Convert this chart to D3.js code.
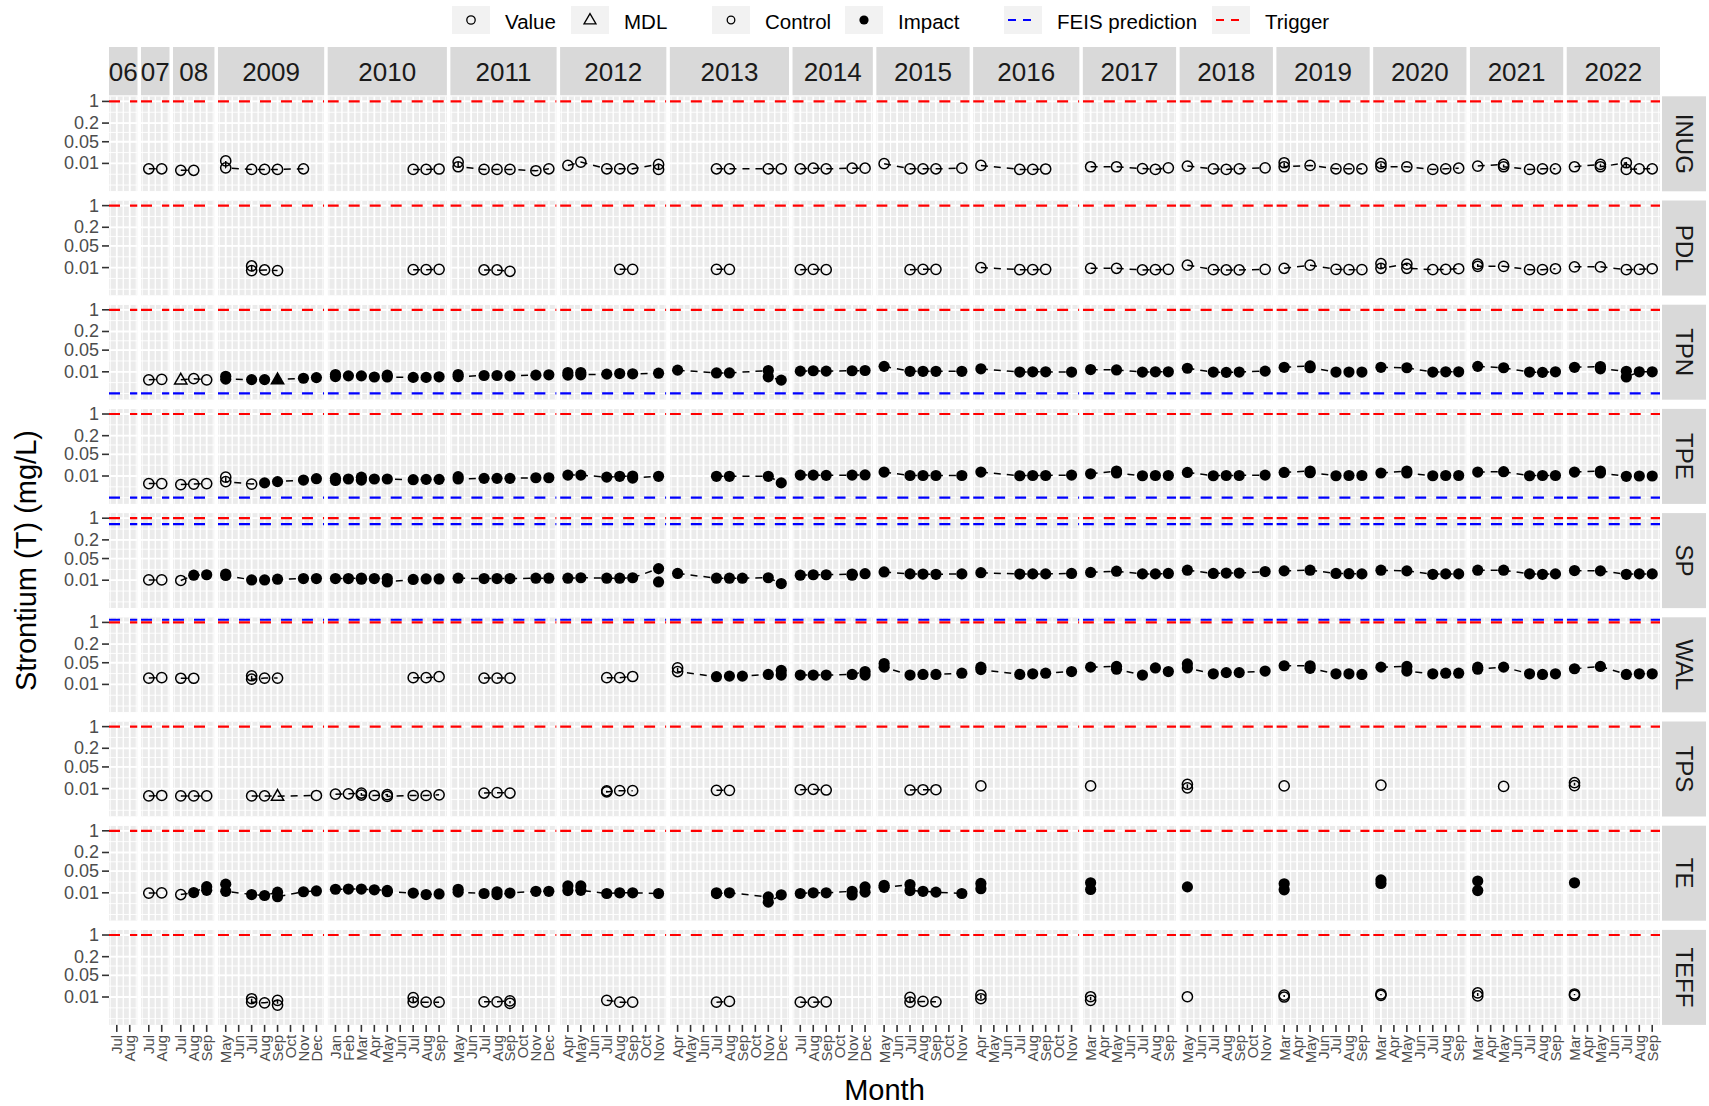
<!DOCTYPE html>
<html><head><meta charset="utf-8">
<script src="https://cdn.jsdelivr.net/npm/d3@7"></script>
<style>
body{margin:0;background:#fff}
text{font-family:"Liberation Sans",Arial,Helvetica,sans-serif}
</style>
</head><body>
<svg id="c" width="1709" height="1106" xmlns="http://www.w3.org/2000/svg"></svg>
<script>
// ---------------- DATA ----------------
const sites = ["INUG","PDL","TPN","TPE","SP","WAL","TPS","TE","TEFF"];
const years = [2006,2007,2008,2009,2010,2011,2012,2013,2014,2015,2016,2017,2018,2019,2020,2021,2022];
const yearLabels = ["06","07","08","2009","2010","2011","2012","2013","2014","2015","2016","2017","2018","2019","2020","2021","2022"];
const yearMonths = [
  ["Jul","Aug"],
  ["Jul","Aug"],
  ["Jul","Aug","Sep"],
  ["May","Jun","Jul","Aug","Sep","Oct","Nov","Dec"],
  ["Jan","Feb","Mar","Apr","May","Jun","Jul","Aug","Sep"],
  ["May","Jun","Jul","Aug","Sep","Oct","Nov","Dec"],
  ["Apr","May","Jun","Jul","Aug","Sep","Oct","Nov"],
  ["Apr","May","Jun","Jul","Aug","Sep","Oct","Nov","Dec"],
  ["Jul","Aug","Sep","Oct","Nov","Dec"],
  ["May","Jun","Jul","Aug","Sep","Oct","Nov"],
  ["Apr","May","Jun","Jul","Aug","Sep","Oct","Nov"],
  ["Mar","Apr","May","Jun","Jul","Aug","Sep"],
  ["May","Jun","Jul","Aug","Sep","Oct","Nov"],
  ["Mar","Apr","May","Jun","Jul","Aug","Sep"],
  ["Mar","Apr","May","Jun","Jul","Aug","Sep"],
  ["Mar","Apr","May","Jun","Jul","Aug","Sep"],
  ["Mar","Apr","May","Jun","Jul","Aug","Sep"]
];
const triggerValues = [1,1,1,1,1,1,1,1,1];
const feisValues = [null,null,0.002,0.002,0.64,1.22,null,null,null];
const yTickValues = [1,0.2,0.05,0.01];
const yTickLabels = ["1","0.2","0.05","0.01"];
const legendShapes = ["Value","MDL"];
const legendGroups = ["Control","Impact"];
const legendLines = ["FEIS prediction","Trigger"];

// [year, month, value, type]  type: C=Control value, I=Impact value, CM/IM = at MDL
const INUG = [
 [2007,"Jul",0.0067,"C"],[2007,"Aug",0.0067,"C"],
 [2008,"Jul",0.006,"C"],[2008,"Aug",0.006,"C"],
 [2009,"May",0.012,"C"],[2009,"May",0.0072,"C"],[2009,"Jul",0.0064,"C"],[2009,"Aug",0.0064,"C"],[2009,"Sep",0.0064,"C"],[2009,"Nov",0.0067,"C"],
 [2010,"Jul",0.0064,"C"],[2010,"Aug",0.0064,"C"],[2010,"Sep",0.0066,"C"],
 [2011,"May",0.011,"C"],[2011,"May",0.0078,"C"],[2011,"Jul",0.0064,"C"],[2011,"Aug",0.0064,"C"],[2011,"Sep",0.0064,"C"],[2011,"Nov",0.0058,"C"],[2011,"Dec",0.0067,"C"],
 [2012,"Apr",0.0086,"C"],[2012,"May",0.011,"C"],[2012,"Jul",0.0067,"C"],[2012,"Aug",0.0067,"C"],[2012,"Sep",0.0067,"C"],[2012,"Nov",0.0093,"C"],[2012,"Nov",0.0064,"C"],
 [2013,"Jul",0.0067,"C"],[2013,"Aug",0.0067,"C"],[2013,"Nov",0.0067,"C"],[2013,"Dec",0.0067,"C"],
 [2014,"Jul",0.0067,"C"],[2014,"Aug",0.007,"C"],[2014,"Sep",0.0067,"C"],[2014,"Nov",0.007,"C"],[2014,"Dec",0.007,"C"],
 [2015,"May",0.0098,"C"],[2015,"Jul",0.0067,"C"],[2015,"Aug",0.0067,"C"],[2015,"Sep",0.0067,"C"],[2015,"Nov",0.007,"C"],
 [2016,"Apr",0.0086,"C"],[2016,"Jul",0.0064,"C"],[2016,"Aug",0.0064,"C"],[2016,"Sep",0.0066,"C"],
 [2017,"Mar",0.0078,"C"],[2017,"May",0.0078,"C"],[2017,"Jul",0.0068,"C"],[2017,"Aug",0.0064,"C"],[2017,"Sep",0.0072,"C"],
 [2018,"May",0.0082,"C"],[2018,"Jul",0.0067,"C"],[2018,"Aug",0.0064,"C"],[2018,"Sep",0.0067,"C"],[2018,"Nov",0.0072,"C"],
 [2019,"Mar",0.0105,"C"],[2019,"Mar",0.0078,"C"],[2019,"May",0.0086,"C"],[2019,"Jul",0.0067,"C"],[2019,"Aug",0.0067,"C"],[2019,"Sep",0.0067,"C"],
 [2020,"Mar",0.01,"C"],[2020,"Mar",0.0078,"C"],[2020,"May",0.0078,"C"],[2020,"Jul",0.0064,"C"],[2020,"Aug",0.0067,"C"],[2020,"Sep",0.007,"C"],
 [2021,"Mar",0.0082,"C"],[2021,"May",0.0093,"C"],[2021,"May",0.0078,"C"],[2021,"Jul",0.0064,"C"],[2021,"Aug",0.0067,"C"],[2021,"Sep",0.0067,"C"],
 [2022,"Mar",0.0078,"C"],[2022,"May",0.0093,"C"],[2022,"May",0.0078,"C"],[2022,"Jul",0.0105,"C"],[2022,"Jul",0.0064,"C"],[2022,"Aug",0.0067,"C"],[2022,"Sep",0.0067,"C"]
];
const PDL = [
 [2009,"Jul",0.0113,"C"],[2009,"Jul",0.008,"C"],[2009,"Aug",0.0084,"C"],[2009,"Sep",0.008,"C"],
 [2010,"Jul",0.0086,"C"],[2010,"Aug",0.0086,"C"],[2010,"Sep",0.0088,"C"],
 [2011,"Jul",0.0084,"C"],[2011,"Aug",0.0084,"C"],[2011,"Sep",0.0076,"C"],
 [2012,"Aug",0.0088,"C"],[2012,"Sep",0.0088,"C"],
 [2013,"Jul",0.0088,"C"],[2013,"Aug",0.0088,"C"],
 [2014,"Jul",0.0086,"C"],[2014,"Aug",0.0088,"C"],[2014,"Sep",0.0086,"C"],
 [2015,"Jul",0.0086,"C"],[2015,"Aug",0.0088,"C"],[2015,"Sep",0.0088,"C"],
 [2016,"Apr",0.01,"C"],[2016,"Jul",0.0086,"C"],[2016,"Aug",0.0086,"C"],[2016,"Sep",0.0088,"C"],
 [2017,"Mar",0.0095,"C"],[2017,"May",0.0095,"C"],[2017,"Jul",0.0084,"C"],[2017,"Aug",0.0086,"C"],[2017,"Sep",0.0088,"C"],
 [2018,"May",0.012,"C"],[2018,"Jul",0.0086,"C"],[2018,"Aug",0.0084,"C"],[2018,"Sep",0.0084,"C"],[2018,"Nov",0.0088,"C"],
 [2019,"Mar",0.0095,"C"],[2019,"May",0.012,"C"],[2019,"Jul",0.0088,"C"],[2019,"Aug",0.0086,"C"],[2019,"Sep",0.0086,"C"],
 [2020,"Mar",0.0135,"C"],[2020,"Mar",0.0095,"C"],[2020,"May",0.013,"C"],[2020,"May",0.0095,"C"],[2020,"Jul",0.0086,"C"],[2020,"Aug",0.0088,"C"],[2020,"Sep",0.0092,"C"],
 [2021,"Mar",0.013,"C"],[2021,"Mar",0.011,"C"],[2021,"May",0.011,"C"],[2021,"Jul",0.0086,"C"],[2021,"Aug",0.0086,"C"],[2021,"Sep",0.0092,"C"],
 [2022,"Mar",0.0106,"C"],[2022,"May",0.0106,"C"],[2022,"Jul",0.0086,"C"],[2022,"Aug",0.0088,"C"],[2022,"Sep",0.0092,"C"]
];
const TPN = [
 [2007,"Jul",0.0055,"C"],[2007,"Aug",0.0057,"C"],
 [2008,"Jul",0.0055,"CM"],[2008,"Aug",0.006,"C"],[2008,"Sep",0.0055,"C"],
 [2009,"May",0.0072,"I"],[2009,"May",0.0058,"I"],[2009,"Jul",0.0056,"I"],[2009,"Aug",0.0056,"I"],[2009,"Sep",0.0056,"IM"],[2009,"Nov",0.0062,"I"],[2009,"Dec",0.0065,"I"],
 [2010,"Jan",0.0082,"I"],[2010,"Jan",0.007,"I"],[2010,"Feb",0.0074,"I"],[2010,"Mar",0.0074,"I"],[2010,"Apr",0.0068,"I"],[2010,"May",0.0078,"I"],[2010,"May",0.0068,"I"],[2010,"Jul",0.0066,"I"],[2010,"Aug",0.0066,"I"],[2010,"Sep",0.0069,"I"],
 [2011,"May",0.0082,"I"],[2011,"May",0.007,"I"],[2011,"Jul",0.0076,"I"],[2011,"Aug",0.0076,"I"],[2011,"Sep",0.0074,"I"],[2011,"Nov",0.0078,"I"],[2011,"Dec",0.008,"I"],
 [2012,"Apr",0.0095,"I"],[2012,"Apr",0.0078,"I"],[2012,"May",0.0095,"I"],[2012,"May",0.008,"I"],[2012,"Jul",0.0084,"I"],[2012,"Aug",0.0088,"I"],[2012,"Sep",0.0086,"I"],[2012,"Nov",0.009,"I"],
 [2013,"Apr",0.0113,"I"],[2013,"Jul",0.0092,"I"],[2013,"Aug",0.0092,"I"],[2013,"Nov",0.011,"I"],[2013,"Nov",0.0069,"I"],[2013,"Dec",0.0054,"I"],
 [2014,"Jul",0.0105,"I"],[2014,"Aug",0.0108,"I"],[2014,"Sep",0.0105,"I"],[2014,"Nov",0.0108,"I"],[2014,"Dec",0.011,"I"],
 [2015,"May",0.015,"I"],[2015,"Jul",0.0104,"I"],[2015,"Aug",0.0104,"I"],[2015,"Sep",0.0104,"I"],[2015,"Nov",0.0104,"I"],
 [2016,"Apr",0.0125,"I"],[2016,"Jul",0.0098,"I"],[2016,"Aug",0.01,"I"],[2016,"Sep",0.01,"I"],[2016,"Nov",0.0098,"I"],
 [2017,"Mar",0.0118,"I"],[2017,"May",0.0115,"I"],[2017,"Jul",0.0098,"I"],[2017,"Aug",0.01,"I"],[2017,"Sep",0.01,"I"],
 [2018,"May",0.013,"I"],[2018,"Jul",0.0098,"I"],[2018,"Aug",0.0096,"I"],[2018,"Sep",0.0098,"I"],[2018,"Nov",0.0105,"I"],
 [2019,"Mar",0.014,"I"],[2019,"May",0.0155,"I"],[2019,"May",0.0135,"I"],[2019,"Jul",0.0098,"I"],[2019,"Aug",0.0098,"I"],[2019,"Sep",0.0098,"I"],
 [2020,"Mar",0.014,"I"],[2020,"May",0.0135,"I"],[2020,"Jul",0.0098,"I"],[2020,"Aug",0.01,"I"],[2020,"Sep",0.01,"I"],
 [2021,"Mar",0.015,"I"],[2021,"May",0.0135,"I"],[2021,"Jul",0.0098,"I"],[2021,"Aug",0.0096,"I"],[2021,"Sep",0.01,"I"],
 [2022,"Mar",0.014,"I"],[2022,"May",0.0148,"I"],[2022,"May",0.0125,"I"],[2022,"Jul",0.0104,"I"],[2022,"Jul",0.0068,"I"],[2022,"Aug",0.01,"I"],[2022,"Sep",0.01,"I"]
];
const TPE = [
 [2007,"Jul",0.0057,"C"],[2007,"Aug",0.0057,"C"],
 [2008,"Jul",0.0053,"C"],[2008,"Aug",0.0055,"C"],[2008,"Sep",0.0057,"C"],
 [2009,"May",0.0092,"C"],[2009,"May",0.0066,"C"],[2009,"Jul",0.0055,"C"],[2009,"Aug",0.006,"I"],[2009,"Sep",0.0066,"I"],[2009,"Nov",0.0074,"I"],[2009,"Dec",0.0082,"I"],
 [2010,"Jan",0.0085,"I"],[2010,"Jan",0.0072,"I"],[2010,"Feb",0.008,"I"],[2010,"Mar",0.0092,"I"],[2010,"Mar",0.0074,"I"],[2010,"Apr",0.008,"I"],[2010,"May",0.008,"I"],[2010,"Jul",0.0076,"I"],[2010,"Aug",0.0078,"I"],[2010,"Sep",0.0078,"I"],
 [2011,"May",0.0095,"I"],[2011,"May",0.008,"I"],[2011,"Jul",0.0084,"I"],[2011,"Aug",0.0084,"I"],[2011,"Sep",0.0084,"I"],[2011,"Nov",0.0088,"I"],[2011,"Dec",0.0088,"I"],
 [2012,"Apr",0.0107,"I"],[2012,"May",0.0107,"I"],[2012,"Jul",0.0092,"I"],[2012,"Aug",0.0098,"I"],[2012,"Sep",0.01,"I"],[2012,"Sep",0.0086,"I"],[2012,"Nov",0.0098,"I"],
 [2013,"Jul",0.0098,"I"],[2013,"Aug",0.0098,"I"],[2013,"Nov",0.0098,"I"],[2013,"Dec",0.006,"I"],
 [2014,"Jul",0.0107,"I"],[2014,"Aug",0.0107,"I"],[2014,"Sep",0.0105,"I"],[2014,"Nov",0.0107,"I"],[2014,"Dec",0.0108,"I"],
 [2015,"May",0.0134,"I"],[2015,"Jul",0.0104,"I"],[2015,"Aug",0.0104,"I"],[2015,"Sep",0.0104,"I"],[2015,"Nov",0.0104,"I"],
 [2016,"Apr",0.0134,"I"],[2016,"Jul",0.0102,"I"],[2016,"Aug",0.0104,"I"],[2016,"Sep",0.0104,"I"],[2016,"Nov",0.0107,"I"],
 [2017,"Mar",0.0118,"I"],[2017,"May",0.0145,"I"],[2017,"May",0.0125,"I"],[2017,"Jul",0.0102,"I"],[2017,"Aug",0.0104,"I"],[2017,"Sep",0.0104,"I"],
 [2018,"May",0.013,"I"],[2018,"Jul",0.0102,"I"],[2018,"Aug",0.0104,"I"],[2018,"Sep",0.0104,"I"],[2018,"Nov",0.0107,"I"],
 [2019,"Mar",0.013,"I"],[2019,"May",0.0145,"I"],[2019,"May",0.0128,"I"],[2019,"Jul",0.0102,"I"],[2019,"Aug",0.0104,"I"],[2019,"Sep",0.0104,"I"],
 [2020,"Mar",0.0125,"I"],[2020,"May",0.0145,"I"],[2020,"May",0.0125,"I"],[2020,"Jul",0.0102,"I"],[2020,"Aug",0.0104,"I"],[2020,"Sep",0.0104,"I"],
 [2021,"Mar",0.0134,"I"],[2021,"May",0.0138,"I"],[2021,"Jul",0.0102,"I"],[2021,"Aug",0.0104,"I"],[2021,"Sep",0.0104,"I"],
 [2022,"Mar",0.0134,"I"],[2022,"May",0.0145,"I"],[2022,"May",0.0125,"I"],[2022,"Jul",0.0098,"I"],[2022,"Aug",0.01,"I"],[2022,"Sep",0.01,"I"]
];
const SP = [
 [2007,"Jul",0.0102,"C"],[2007,"Aug",0.0102,"C"],
 [2008,"Jul",0.0098,"C"],[2008,"Aug",0.0145,"I"],[2008,"Sep",0.015,"I"],
 [2009,"May",0.0158,"I"],[2009,"May",0.0142,"I"],[2009,"Jul",0.0102,"I"],[2009,"Aug",0.0102,"I"],[2009,"Sep",0.0108,"I"],[2009,"Nov",0.0113,"I"],[2009,"Dec",0.0113,"I"],
 [2010,"Jan",0.0113,"I"],[2010,"Feb",0.0113,"I"],[2010,"Mar",0.0118,"I"],[2010,"Mar",0.0108,"I"],[2010,"Apr",0.0113,"I"],[2010,"May",0.0113,"I"],[2010,"May",0.0088,"I"],[2010,"Jul",0.0106,"I"],[2010,"Aug",0.011,"I"],[2010,"Sep",0.011,"I"],
 [2011,"May",0.0116,"I"],[2011,"Jul",0.0113,"I"],[2011,"Aug",0.0113,"I"],[2011,"Sep",0.0113,"I"],[2011,"Nov",0.0116,"I"],[2011,"Dec",0.0116,"I"],
 [2012,"Apr",0.0116,"I"],[2012,"May",0.012,"I"],[2012,"Jul",0.0116,"I"],[2012,"Aug",0.0116,"I"],[2012,"Sep",0.012,"I"],[2012,"Nov",0.0237,"I"],[2012,"Nov",0.0088,"I"],
 [2013,"Apr",0.0165,"I"],[2013,"Jul",0.0116,"I"],[2013,"Aug",0.0116,"I"],[2013,"Sep",0.0116,"I"],[2013,"Nov",0.012,"I"],[2013,"Dec",0.0078,"I"],
 [2014,"Jul",0.0145,"I"],[2014,"Aug",0.015,"I"],[2014,"Sep",0.015,"I"],[2014,"Nov",0.0158,"I"],[2014,"Nov",0.0145,"I"],[2014,"Dec",0.0162,"I"],
 [2015,"May",0.0185,"I"],[2015,"Jul",0.016,"I"],[2015,"Aug",0.0158,"I"],[2015,"Sep",0.0155,"I"],[2015,"Nov",0.016,"I"],
 [2016,"Apr",0.0175,"I"],[2016,"Jul",0.0158,"I"],[2016,"Aug",0.016,"I"],[2016,"Sep",0.016,"I"],[2016,"Nov",0.0165,"I"],
 [2017,"Mar",0.0178,"I"],[2017,"May",0.0195,"I"],[2017,"Jul",0.016,"I"],[2017,"Aug",0.016,"I"],[2017,"Sep",0.0165,"I"],
 [2018,"May",0.021,"I"],[2018,"Jul",0.0165,"I"],[2018,"Aug",0.017,"I"],[2018,"Sep",0.017,"I"],[2018,"Nov",0.019,"I"],
 [2019,"Mar",0.02,"I"],[2019,"May",0.021,"I"],[2019,"Jul",0.0165,"I"],[2019,"Aug",0.0162,"I"],[2019,"Sep",0.016,"I"],
 [2020,"Mar",0.021,"I"],[2020,"May",0.02,"I"],[2020,"Jul",0.0155,"I"],[2020,"Aug",0.016,"I"],[2020,"Sep",0.016,"I"],
 [2021,"Mar",0.021,"I"],[2021,"May",0.021,"I"],[2021,"Jul",0.016,"I"],[2021,"Aug",0.0155,"I"],[2021,"Sep",0.016,"I"],
 [2022,"Mar",0.0205,"I"],[2022,"May",0.02,"I"],[2022,"Jul",0.0155,"I"],[2022,"Aug",0.016,"I"],[2022,"Sep",0.016,"I"]
];
const WAL = [
 [2007,"Jul",0.016,"C"],[2007,"Aug",0.0165,"C"],
 [2008,"Jul",0.0158,"C"],[2008,"Aug",0.0158,"C"],
 [2009,"Jul",0.019,"C"],[2009,"Jul",0.0147,"C"],[2009,"Aug",0.016,"C"],[2009,"Sep",0.016,"C"],
 [2010,"Jul",0.0165,"C"],[2010,"Aug",0.0165,"C"],[2010,"Sep",0.0177,"C"],
 [2011,"Jul",0.016,"C"],[2011,"Aug",0.016,"C"],[2011,"Sep",0.016,"C"],
 [2012,"Jul",0.0165,"C"],[2012,"Aug",0.0165,"C"],[2012,"Sep",0.018,"C"],
 [2013,"Apr",0.034,"C"],[2013,"Apr",0.026,"C"],[2013,"Jul",0.0177,"I"],[2013,"Aug",0.0185,"I"],[2013,"Sep",0.0185,"I"],[2013,"Nov",0.021,"I"],[2013,"Dec",0.0283,"I"],[2013,"Dec",0.02,"I"],
 [2014,"Jul",0.02,"I"],[2014,"Aug",0.02,"I"],[2014,"Sep",0.02,"I"],[2014,"Nov",0.021,"I"],[2014,"Dec",0.026,"I"],[2014,"Dec",0.02,"I"],
 [2015,"May",0.047,"I"],[2015,"May",0.036,"I"],[2015,"Jul",0.02,"I"],[2015,"Aug",0.021,"I"],[2015,"Sep",0.021,"I"],[2015,"Nov",0.023,"I"],
 [2016,"Apr",0.036,"I"],[2016,"Apr",0.03,"I"],[2016,"Jul",0.021,"I"],[2016,"Aug",0.022,"I"],[2016,"Sep",0.023,"I"],[2016,"Nov",0.026,"I"],
 [2017,"Mar",0.036,"I"],[2017,"May",0.038,"I"],[2017,"May",0.031,"I"],[2017,"Jul",0.02,"I"],[2017,"Aug",0.034,"I"],[2017,"Sep",0.026,"I"],
 [2018,"May",0.046,"I"],[2018,"May",0.034,"I"],[2018,"Jul",0.022,"I"],[2018,"Aug",0.024,"I"],[2018,"Sep",0.024,"I"],[2018,"Nov",0.027,"I"],
 [2019,"Mar",0.04,"I"],[2019,"May",0.04,"I"],[2019,"May",0.033,"I"],[2019,"Jul",0.022,"I"],[2019,"Aug",0.022,"I"],[2019,"Sep",0.021,"I"],
 [2020,"Mar",0.036,"I"],[2020,"May",0.038,"I"],[2020,"May",0.027,"I"],[2020,"Jul",0.022,"I"],[2020,"Aug",0.023,"I"],[2020,"Sep",0.023,"I"],
 [2021,"Mar",0.036,"I"],[2021,"Mar",0.031,"I"],[2021,"May",0.036,"I"],[2021,"Jul",0.022,"I"],[2021,"Aug",0.021,"I"],[2021,"Sep",0.022,"I"],
 [2022,"Mar",0.032,"I"],[2022,"May",0.038,"I"],[2022,"Jul",0.021,"I"],[2022,"Aug",0.022,"I"],[2022,"Sep",0.022,"I"]
];
const TPS = [
 [2007,"Jul",0.0058,"C"],[2007,"Aug",0.006,"C"],
 [2008,"Jul",0.0058,"C"],[2008,"Aug",0.0058,"C"],[2008,"Sep",0.0058,"C"],
 [2009,"Jul",0.0058,"C"],[2009,"Aug",0.0058,"C"],[2009,"Sep",0.0057,"CM"],[2009,"Dec",0.006,"C"],
 [2010,"Jan",0.0066,"C"],[2010,"Feb",0.0068,"C"],[2010,"Mar",0.0072,"C"],[2010,"Mar",0.0062,"C"],[2010,"Apr",0.006,"C"],[2010,"May",0.0064,"C"],[2010,"May",0.0056,"C"],[2010,"Jul",0.006,"C"],[2010,"Aug",0.006,"C"],[2010,"Sep",0.0063,"C"],
 [2011,"Jul",0.0072,"C"],[2011,"Aug",0.0074,"C"],[2011,"Sep",0.0072,"C"],
 [2012,"Jul",0.0085,"C"],[2012,"Jul",0.0078,"C"],[2012,"Aug",0.0086,"C"],[2012,"Sep",0.0086,"C"],
 [2013,"Jul",0.0088,"C"],[2013,"Aug",0.0088,"C"],
 [2014,"Jul",0.0092,"C"],[2014,"Aug",0.0095,"C"],[2014,"Sep",0.009,"C"],
 [2015,"Jul",0.009,"C"],[2015,"Aug",0.0092,"C"],[2015,"Sep",0.0092,"C"],
 [2016,"Apr",0.0122,"C"],
 [2017,"Mar",0.0122,"C"],
 [2018,"May",0.0138,"C"],[2018,"May",0.0105,"C"],
 [2019,"Mar",0.0122,"C"],
 [2020,"Mar",0.013,"C"],
 [2021,"May",0.0118,"C"],
 [2022,"Mar",0.0155,"C"],[2022,"Mar",0.0125,"C"]
];
const TE = [
 [2007,"Jul",0.0098,"C"],[2007,"Aug",0.01,"C"],
 [2008,"Jul",0.0088,"C"],[2008,"Aug",0.0102,"I"],[2008,"Sep",0.0158,"I"],[2008,"Sep",0.012,"I"],
 [2009,"May",0.019,"I"],[2009,"May",0.0112,"I"],[2009,"Jul",0.0088,"I"],[2009,"Aug",0.0082,"I"],[2009,"Sep",0.0105,"I"],[2009,"Sep",0.0075,"I"],[2009,"Nov",0.0108,"I"],[2009,"Dec",0.0115,"I"],
 [2010,"Jan",0.013,"I"],[2010,"Feb",0.0132,"I"],[2010,"Mar",0.0132,"I"],[2010,"Apr",0.0125,"I"],[2010,"May",0.012,"I"],[2010,"May",0.0108,"I"],[2010,"Jul",0.0098,"I"],[2010,"Aug",0.0088,"I"],[2010,"Sep",0.0092,"I"],
 [2011,"May",0.013,"I"],[2011,"May",0.0105,"I"],[2011,"Jul",0.0095,"I"],[2011,"Aug",0.0108,"I"],[2011,"Aug",0.0088,"I"],[2011,"Sep",0.0098,"I"],[2011,"Nov",0.0112,"I"],[2011,"Dec",0.0112,"I"],
 [2012,"Apr",0.0167,"I"],[2012,"Apr",0.0118,"I"],[2012,"May",0.0167,"I"],[2012,"May",0.012,"I"],[2012,"Jul",0.0095,"I"],[2012,"Aug",0.01,"I"],[2012,"Sep",0.01,"I"],[2012,"Nov",0.0095,"I"],
 [2013,"Jul",0.01,"I"],[2013,"Jul",0.0094,"I"],[2013,"Aug",0.01,"I"],[2013,"Nov",0.0074,"I"],[2013,"Nov",0.005,"I"],[2013,"Dec",0.0086,"I"],
 [2014,"Jul",0.0095,"I"],[2014,"Aug",0.01,"I"],[2014,"Sep",0.01,"I"],[2014,"Nov",0.0112,"I"],[2014,"Nov",0.0085,"I"],[2014,"Dec",0.0155,"I"],[2014,"Dec",0.0105,"I"],
 [2015,"May",0.0175,"I"],[2015,"May",0.015,"I"],[2015,"Jul",0.0185,"I"],[2015,"Jul",0.0118,"I"],[2015,"Aug",0.0112,"I"],[2015,"Sep",0.0105,"I"],[2015,"Nov",0.0095,"I"],
 [2016,"Apr",0.02,"I"],[2016,"Apr",0.0135,"I"],
 [2017,"Mar",0.021,"I"],[2017,"Mar",0.0128,"I"],
 [2018,"May",0.0155,"I"],
 [2019,"Mar",0.0195,"I"],[2019,"Mar",0.0125,"I"],
 [2020,"Mar",0.026,"I"],[2020,"Mar",0.02,"I"],
 [2021,"Mar",0.024,"I"],[2021,"Mar",0.0118,"I"],
 [2022,"Mar",0.021,"I"]
];
const TEFF = [
 [2009,"Jul",0.0088,"C"],[2009,"Jul",0.0068,"C"],[2009,"Aug",0.0065,"C"],[2009,"Sep",0.0078,"C"],[2009,"Sep",0.0055,"C"],
 [2010,"Jul",0.0095,"C"],[2010,"Jul",0.0068,"C"],[2010,"Aug",0.0068,"C"],[2010,"Sep",0.0068,"C"],
 [2011,"Jul",0.007,"C"],[2011,"Aug",0.007,"C"],[2011,"Sep",0.0075,"C"],[2011,"Sep",0.0062,"C"],
 [2012,"Jul",0.0078,"C"],[2012,"Aug",0.0068,"C"],[2012,"Sep",0.0068,"C"],
 [2013,"Jul",0.0068,"C"],[2013,"Aug",0.0072,"C"],
 [2014,"Jul",0.0068,"C"],[2014,"Aug",0.0068,"C"],[2014,"Sep",0.007,"C"],
 [2015,"Jul",0.0098,"C"],[2015,"Jul",0.0068,"C"],[2015,"Aug",0.0072,"C"],[2015,"Sep",0.007,"C"],
 [2016,"Apr",0.0115,"C"],[2016,"Apr",0.0088,"C"],
 [2017,"Mar",0.0102,"C"],[2017,"Mar",0.0078,"C"],
 [2018,"May",0.0102,"C"],
 [2019,"Mar",0.0115,"C"],[2019,"Mar",0.01,"C"],
 [2020,"Mar",0.0125,"C"],[2020,"Mar",0.0113,"C"],
 [2021,"Mar",0.0135,"C"],[2021,"Mar",0.0108,"C"],
 [2022,"Mar",0.0125,"C"],[2022,"Mar",0.0113,"C"]
];
const siteData = {INUG, PDL, TPN, TPE, SP, WAL, TPS, TE, TEFF};

// ---------------- LAYOUT ----------------
const plotL = 109, plotR = 1660, gapX = 3.5;
const panelTop0 = 96.3, panelH = 95, rowPitch = 104.2;
const stripTop = 47, stripBot = 95.3;
const rStripX0 = 1662, rStripX1 = 1706;
const yLogMin = -2.9, yLogMax = 0.165;

const svg = d3.select("#c");
const defs = svg.append("defs");
const root = svg.append("g");

const yScale = d3.scaleLog().domain([Math.pow(10, yLogMin), Math.pow(10, yLogMax)]).range([panelH, 0]);
const majorLogs = yTickValues.map(v => Math.log10(v)).sort((a,b)=>a-b);
const bd = majorLogs[1]-majorLogs[0];
const ext = [majorLogs[0]-bd, ...majorLogs, majorLogs[majorLogs.length-1]+bd];
const minorLogs = [];
for (let i=0;i<ext.length-1;i++) minorLogs.push((ext[i]+ext[i+1])/2, ext[i]);
const minorVals = minorLogs.filter(l => l>yLogMin && l<yLogMax).map(l=>Math.pow(10,l));

const units = yearMonths.map(m => m.length + 0.2);
const unitW = (plotR - plotL - gapX*(years.length-1)) / d3.sum(units);
let cx = plotL;
const yearPanels = years.map((yr, i) => {
  const w = units[i]*unitW;
  const p = {yr, i, x0: cx, x1: cx + w, months: yearMonths[i]};
  p.x = d3.scalePoint().domain(p.months).range([p.x0, p.x1]).padding(0.6);
  cx += w + gapX;
  return p;
});
const monthOrder = ["Jan","Feb","Mar","Apr","May","Jun","Jul","Aug","Sep","Oct","Nov","Dec"];

// year strips
yearPanels.forEach(p => {
  const cid = "ys"+p.i;
  defs.append("clipPath").attr("id", cid).append("rect")
    .attr("x", p.x0).attr("y", stripTop).attr("width", p.x1-p.x0).attr("height", stripBot-stripTop);
  root.append("rect").attr("x", p.x0).attr("y", stripTop).attr("width", p.x1-p.x0)
    .attr("height", stripBot-stripTop).attr("fill", "#D9D9D9");
  root.append("text").attr("clip-path", `url(#${cid})`)
    .attr("x", (p.x0+p.x1)/2).attr("y", (stripTop+stripBot)/2 + 1)
    .attr("text-anchor","middle").attr("dominant-baseline","central")
    .attr("font-size", 26).attr("fill", "#1A1A1A").text(yearLabels[p.i]);
});

const symTri = (cxp, cyp, s) => {
  const h = s*0.866;
  return `M${cxp},${cyp - h*0.62}L${cxp + s/2},${cyp + h*0.38}L${cxp - s/2},${cyp + h*0.38}Z`;
};

function drawPoint(g, px, py, type, r) {
  const filled = type[0] === "I";
  if (type.length > 1) {
    g.append("path").attr("d", symTri(px, py, r*2.4))
      .attr("fill", filled ? "#000" : "none").attr("stroke", "#000").attr("stroke-width", 1.5);
  } else if (filled) {
    g.append("circle").attr("cx", px).attr("cy", py).attr("r", r + 0.5).attr("fill", "#000");
  } else {
    g.append("circle").attr("cx", px).attr("cy", py).attr("r", r)
      .attr("fill", "none").attr("stroke", "#000").attr("stroke-width", 1.5);
  }
}

sites.forEach((site, r) => {
  const top = panelTop0 + r*rowPitch;
  const obs = siteData[site];
  yearPanels.forEach(p => {
    const cid = `cp${r}_${p.i}`;
    defs.append("clipPath").attr("id", cid).append("rect")
      .attr("x", p.x0).attr("y", top).attr("width", p.x1-p.x0).attr("height", panelH);
    const g = root.append("g").attr("clip-path", `url(#${cid})`);
    g.append("rect").attr("x", p.x0).attr("y", top).attr("width", p.x1-p.x0).attr("height", panelH).attr("fill", "#EBEBEB");
    minorVals.forEach(v => g.append("line").attr("x1", p.x0).attr("x2", p.x1)
      .attr("y1", top+yScale(v)).attr("y2", top+yScale(v)).attr("stroke", "#fff").attr("stroke-width", 0.9));
    // minor vertical lines between months
    const step = p.x.step();
    p.months.forEach(m => {
      [-0.5, 0.5].forEach(o => {
        const xx = p.x(m) + o*step;
        g.append("line").attr("x1", xx).attr("x2", xx).attr("y1", top).attr("y2", top+panelH)
          .attr("stroke", "#fff").attr("stroke-width", 0.9);
      });
    });
    yTickValues.forEach(v => g.append("line").attr("x1", p.x0).attr("x2", p.x1)
      .attr("y1", top+yScale(v)).attr("y2", top+yScale(v)).attr("stroke", "#fff").attr("stroke-width", 1.8));
    p.months.forEach(m => g.append("line").attr("x1", p.x(m)).attr("x2", p.x(m))
      .attr("y1", top).attr("y2", top+panelH).attr("stroke", "#fff").attr("stroke-width", 1.8));
    // reference lines
    g.append("line").attr("x1", p.x0).attr("x2", p.x1)
      .attr("y1", top+yScale(triggerValues[r])).attr("y2", top+yScale(triggerValues[r]))
      .attr("stroke", "#FF0000").attr("stroke-width", 2.2).attr("stroke-dasharray", "11,10");
    if (feisValues[r] != null) {
      g.append("line").attr("x1", p.x0).attr("x2", p.x1)
        .attr("y1", top+yScale(feisValues[r])).attr("y2", top+yScale(feisValues[r]))
        .attr("stroke", "#0000FF").attr("stroke-width", 2.2).attr("stroke-dasharray", "11,10");
    }
    const pts = obs.filter(d => d[0] === p.yr)
      .map((d, k) => ({d, k}))
      .sort((a, b) => (monthOrder.indexOf(a.d[1]) - monthOrder.indexOf(b.d[1])) || (a.k - b.k))
      .map(o => o.d);
    if (pts.length > 1) {
      const line = d3.line().x(d => p.x(d[1])).y(d => top + yScale(d[2]));
      g.append("path").attr("d", line(pts)).attr("fill", "none")
        .attr("stroke", "#000").attr("stroke-width", 1.5).attr("stroke-dasharray", "7,6");
    }
    pts.forEach(d => drawPoint(g, p.x(d[1]), top + yScale(d[2]), d[3], 5.1));
  });
  // y axis
  yTickValues.forEach((v, k) => {
    const yy = top + yScale(v);
    root.append("line").attr("x1", plotL-7).attr("x2", plotL).attr("y1", yy).attr("y2", yy)
      .attr("stroke", "#333").attr("stroke-width", 1.6);
    root.append("text").attr("x", plotL-10).attr("y", yy).attr("text-anchor", "end")
      .attr("dominant-baseline", "central").attr("font-size", 18).attr("fill", "#4D4D4D").text(yTickLabels[k]);
  });
  // right strip
  root.append("rect").attr("x", rStripX0).attr("y", top).attr("width", rStripX1-rStripX0)
    .attr("height", panelH).attr("fill", "#D9D9D9");
  const sx = (rStripX0+rStripX1)/2, sy = top + panelH/2;
  root.append("text").attr("transform", `translate(${sx},${sy}) rotate(90)`)
    .attr("text-anchor", "middle").attr("dominant-baseline", "central")
    .attr("font-size", 24).attr("fill", "#1A1A1A").text(site);
});

// x axis
const bottom = panelTop0 + (sites.length-1)*rowPitch + panelH;
yearPanels.forEach(p => {
  p.months.forEach(m => {
    const xx = p.x(m);
    root.append("line").attr("x1", xx).attr("x2", xx).attr("y1", bottom).attr("y2", bottom+7)
      .attr("stroke", "#333").attr("stroke-width", 1.6);
    root.append("text").attr("transform", `translate(${xx},${bottom+10}) rotate(-90)`)
      .attr("text-anchor", "end").attr("dominant-baseline", "central")
      .attr("font-size", 15).attr("fill", "#4D4D4D").text(m);
  });
});

// axis titles
root.append("text").attr("x", (plotL+plotR)/2).attr("y", 1090).attr("text-anchor", "middle")
  .attr("dominant-baseline", "central").attr("font-size", 29).attr("fill", "#000").text("Month");
root.append("text").attr("transform", `translate(26,${(panelTop0+bottom)/2}) rotate(-90)`)
  .attr("text-anchor", "middle").attr("dominant-baseline", "central")
  .attr("font-size", 29).attr("fill", "#000").text("Strontium (T) (mg/L)");

// legend
const legY0 = 6, legH = 28, legW = 38, legCY = 20;
const legendItems = [
  {label: legendShapes[0], x: 452, kind: "openCircle"},
  {label: legendShapes[1], x: 571, kind: "openTri"},
  {label: legendGroups[0], x: 712, kind: "openCircleSmall"},
  {label: legendGroups[1], x: 845, kind: "fillCircle"},
  {label: legendLines[0], x: 1004, kind: "blueLine"},
  {label: legendLines[1], x: 1212, kind: "redLine"}
];
legendItems.forEach(it => {
  root.append("rect").attr("x", it.x).attr("y", legY0).attr("width", legW).attr("height", legH).attr("fill", "#F2F2F2");
  const kx = it.x + legW/2, ky = legY0 + legH/2;
  if (it.kind === "openCircle" || it.kind === "openCircleSmall") {
    root.append("circle").attr("cx", kx).attr("cy", ky).attr("r", it.kind === "openCircle" ? 4.2 : 3.8)
      .attr("fill", "none").attr("stroke", "#000").attr("stroke-width", 1.3);
  } else if (it.kind === "openTri") {
    root.append("path").attr("d", symTri(kx, ky, 12)).attr("fill", "none").attr("stroke", "#000").attr("stroke-width", 1.3);
  } else if (it.kind === "fillCircle") {
    root.append("circle").attr("cx", kx).attr("cy", ky).attr("r", 4.6).attr("fill", "#000");
  } else {
    root.append("line").attr("x1", it.x+4).attr("x2", it.x+legW-4).attr("y1", ky).attr("y2", ky)
      .attr("stroke", it.kind === "blueLine" ? "#0000FF" : "#FF0000").attr("stroke-width", 2.2)
      .attr("stroke-dasharray", "8,7");
  }
  root.append("text").attr("x", it.x + legW + 15).attr("y", legCY + 1).attr("dominant-baseline", "central")
    .attr("font-size", 20.5).attr("fill", "#000").text(it.label);
});
</script>
</body></html>
